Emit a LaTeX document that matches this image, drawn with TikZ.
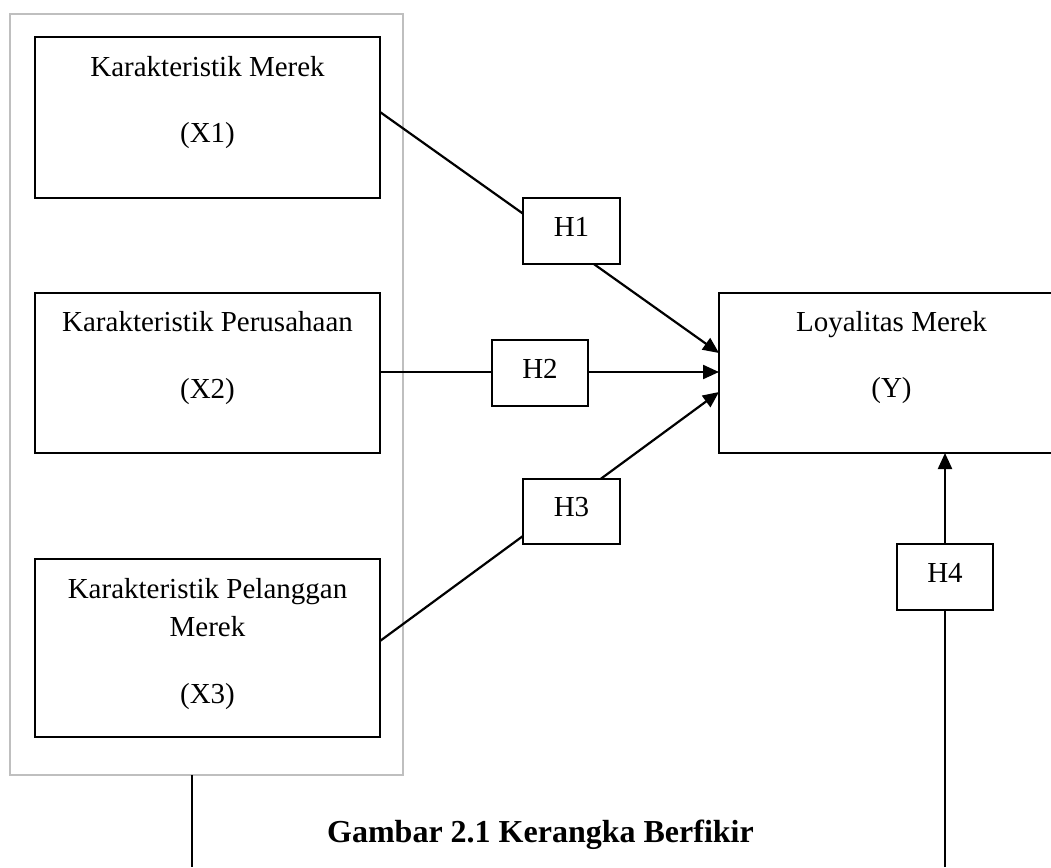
\documentclass[tikz,border=0pt]{standalone}
\usepackage{fontspec}
\setmainfont{Liberation Serif}
\usetikzlibrary{arrows.meta,calc}
\begin{document}
\begin{tikzpicture}[x=1pt,y=-1pt,
  varbox/.style={draw=black,line width=2.2pt,inner sep=0pt,outer sep=0pt,anchor=center},
  hbox/.style={draw=black,fill=white,line width=2.2pt,inner sep=0pt,outer sep=0pt,
    minimum width=96pt,minimum height=66pt,text height=19pt,text depth=9pt,
    font=\fontsize{29}{35}\selectfont},
  lbl/.style={anchor=base,inner sep=0pt,font=\fontsize{29}{35}\selectfont},
  conn/.style={line width=2.2pt,-{Triangle[length=16pt,width=14pt]}},
  plain/.style={line width=2.2pt}]
\useasboundingbox (0,0) rectangle (1051,867);
\clip (0,0) rectangle (1051,867);
\fill[white] (0,0) rectangle (1051,867);

% outer grey frame
\node[draw=black!25,line width=2pt,inner sep=0pt,outer sep=0pt,minimum width=393pt,minimum height=761pt] (outer) at (206.5,394.5) {};

% variable boxes
\node[varbox,minimum width=345pt,minimum height=161pt] (X1) at (207.5,117.5) {};
\node[varbox,minimum width=345pt,minimum height=160pt] (X2) at (207.5,373) {};
\node[varbox,minimum width=345pt,minimum height=178pt] (X3) at (207.5,648) {};
\node[varbox,minimum width=346pt,minimum height=160pt] (Y) at (892,373) {};

% texts
\node[lbl] (tx1a) at (207.5,77) {Karakteristik Merek};
\node[lbl] (tx1b) at (207.5,142) {(X1)};
\node[lbl] (tx2a) at (207.5,331) {Karakteristik Perusahaan};
\node[lbl] (tx2b) at (207.5,398) {(X2)};
\node[lbl] (tx3a) at (207.5,598) {Karakteristik Pelanggan};
\node[lbl] (tx3b) at (207.5,636) {Merek};
\node[lbl] (tx3c) at (207.5,703) {(X3)};
\node[lbl] (tya) at (891.5,331) {Loyalitas Merek};
\node[lbl] (tyb) at (891.5,397) {(Y)};

% connectors
\draw[conn] ([yshift=5.5pt]X1.east) -- ([yshift=20pt]Y.west);
\draw[conn] ([yshift=1pt]X2.east) -- ([yshift=1pt]Y.west);
\draw[conn] ([yshift=7pt]X3.east) -- ([yshift=-19pt]Y.west);
\coordinate (b2) at (945,867);
\draw[conn] (b2) -- (b2 |- Y.south);
\coordinate (b1) at (192,867);
\draw[plain] (b1 |- outer.south) -- (b1);

% hypothesis boxes
\node[hbox,minimum width=97pt] (H1) at (571.5,231) {H1};
\node[hbox] (H2) at (540,373) {H2};
\node[hbox,minimum width=97pt,minimum height=65pt] (H3) at (571.5,511.5) {H3};
\node[hbox] (H4) at (945,577) {H4};

% caption
\node[anchor=base,inner sep=0pt,font=\bfseries\fontsize{32}{38}\selectfont] (cap) at (540.5,842) {Gambar 2.1 Kerangka Berfikir};
\end{tikzpicture}
\end{document}
